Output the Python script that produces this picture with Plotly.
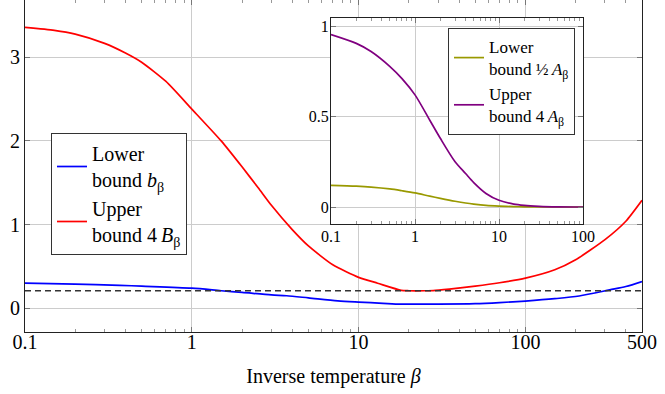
import plotly.graph_objects as go

# ---- main plot data ----
beta_red = [0.1, 0.15, 0.2, 0.3, 0.4, 0.5, 0.7, 1, 1.5, 2, 2.5, 3, 4, 5, 7, 10, 13, 18, 20, 25, 28, 35, 50, 70, 100, 150, 200, 300, 400, 500]
upper_4B = [3.355, 3.32, 3.275, 3.165, 3.05, 2.94, 2.71, 2.38, 2.00, 1.69, 1.44, 1.23, 0.94, 0.745, 0.52, 0.37, 0.30, 0.215, 0.21, 0.21, 0.212, 0.23, 0.265, 0.305, 0.36, 0.46, 0.58, 0.82, 1.04, 1.29]

beta_blue = [0.1, 0.2, 0.37, 0.5, 1, 1.5, 2, 3, 3.7, 5, 7.5, 10, 14, 18, 30, 50, 70, 100, 150, 210, 320, 400, 500]
lower_b = [0.30, 0.29, 0.275, 0.265, 0.24, 0.21, 0.19, 0.16, 0.15, 0.125, 0.09, 0.075, 0.06, 0.05, 0.05, 0.055, 0.068, 0.087, 0.115, 0.147, 0.22, 0.26, 0.32]

dash_x = [0.1, 500]
dash_y = [0.21, 0.21]

# ---- inset data ----
beta_in = [0.1, 0.2, 0.3, 0.5, 0.7, 1, 1.5, 2, 3, 4, 5, 7, 10, 15, 20, 30, 50, 100]
upper_4A = [0.954, 0.905, 0.86, 0.778, 0.71, 0.62, 0.48, 0.38, 0.25, 0.185, 0.135, 0.075, 0.037, 0.016, 0.009, 0.004, 0.001, 0.0]
lower_halfA = [0.12, 0.115, 0.11, 0.10, 0.09, 0.078, 0.06, 0.048, 0.032, 0.022, 0.016, 0.009, 0.005, 0.002, 0.001, 0.0005, 0.0, 0.0]

main_xticks = [0.1, 1, 10, 100, 500]
main_xtext = ["0.1", "1", "10", "100", "500"]
main_yticks = [0, 1, 2, 3]
in_xticks = [0.1, 1, 10, 100]
in_xtext = ["0.1", "1", "10", "100"]
in_yticks = [0, 0.5, 1]
in_ytext = ["0", "0.5", "1"]

FONT = "Liberation Serif, Times New Roman, DejaVu Serif, serif"
W, H = 665, 394
L, R, T, B = 25, 23, 0, 62
pw = W - L - R
ph = H - T - B

fig = go.Figure()
fig.add_trace(go.Scatter(x=beta_blue, y=lower_b, mode="lines", name="Lower<br>bound <i>b</i><sub>β</sub>",
                         line=dict(color="#0000ff", width=1.7, shape="spline", smoothing=0.8)))
fig.add_trace(go.Scatter(x=beta_red, y=upper_4B, mode="lines", name="Upper<br>bound 4\u2009<i>B</i><sub>β</sub>",
                         line=dict(color="#ff0000", width=1.7, shape="spline", smoothing=0.6)))
fig.add_trace(go.Scatter(x=dash_x, y=dash_y, mode="lines", showlegend=False,
                         line=dict(color="#333333", width=1.3, dash="6px,4px")))

fig.add_trace(go.Scatter(x=beta_in, y=lower_halfA, mode="lines", name="Lower<br>bound ½\u2009<i>A</i><sub>β</sub>",
                         xaxis="x2", yaxis="y2", legend="legend2",
                         line=dict(color="#999900", width=1.7, shape="spline", smoothing=0.8)))
fig.add_trace(go.Scatter(x=beta_in, y=upper_4A, mode="lines", name="Upper<br>bound 4\u2009<i>A</i><sub>β</sub>",
                         xaxis="x2", yaxis="y2", legend="legend2",
                         line=dict(color="#800080", width=1.7, shape="spline", smoothing=0.8)))

def px_x(p):
    return (p - L) / pw

def px_y(p):
    return 1 - (p - T) / ph

axis_common = dict(showline=True, linecolor="#222222", linewidth=1, mirror="allticks",
                   gridcolor="#cccccc", gridwidth=1, zeroline=False,
                   ticks="inside", tickcolor="#777777", ticklen=5)

fig.update_layout(
    width=W, height=H,
    margin=dict(l=L, r=R, t=T, b=B),
    paper_bgcolor="white", plot_bgcolor="white",
    font=dict(family=FONT, size=20, color="black"),
    xaxis=dict(type="log", range=[-1, 2.69897], tickvals=main_xticks, ticktext=main_xtext,
               domain=[0, 1], ticklabelstandoff=-8,
               minor=dict(ticks="inside", ticklen=3, tickcolor="#999999", dtick="D1", showgrid=False),
               title=dict(text="Inverse temperature <i>β</i>", font=dict(family=FONT, size=20), standoff=16),
               tickfont=dict(family=FONT, size=20), **axis_common),
    yaxis=dict(range=[-0.283, 3.683], tickvals=main_yticks, domain=[0, 1],
               tickfont=dict(family=FONT, size=20), **axis_common),
    xaxis2=dict(type="log", range=[-1, 2], tickvals=in_xticks, ticktext=in_xtext,
                domain=[px_x(331), px_x(583)], anchor="y2", ticklabelstandoff=-2,
                minor=dict(ticks="inside", ticklen=3, tickcolor="#999999", dtick="D1", showgrid=False),
                tickfont=dict(family=FONT, size=16), **axis_common),
    yaxis2=dict(range=[-0.094, 1.048], tickvals=in_yticks, ticktext=in_ytext,
                domain=[px_y(224), px_y(17.5)], anchor="x2", ticklabelstandoff=-2,
                tickfont=dict(family=FONT, size=16), **axis_common),
    legend=dict(x=px_x(51), y=px_y(133), xanchor="left", yanchor="top",
                bordercolor="#333333", borderwidth=1, bgcolor="white",
                font=dict(family=FONT, size=20), tracegroupgap=0),
    legend2=dict(x=px_x(448), y=px_y(28), xanchor="left", yanchor="top",
                 bordercolor="#333333", borderwidth=1, bgcolor="white",
                 font=dict(family=FONT, size=17), tracegroupgap=0),
)

fig.write_html("out.html", config={"displayModeBar": False},
               post_script="document.body.style.margin='0';document.body.style.padding='0';")
